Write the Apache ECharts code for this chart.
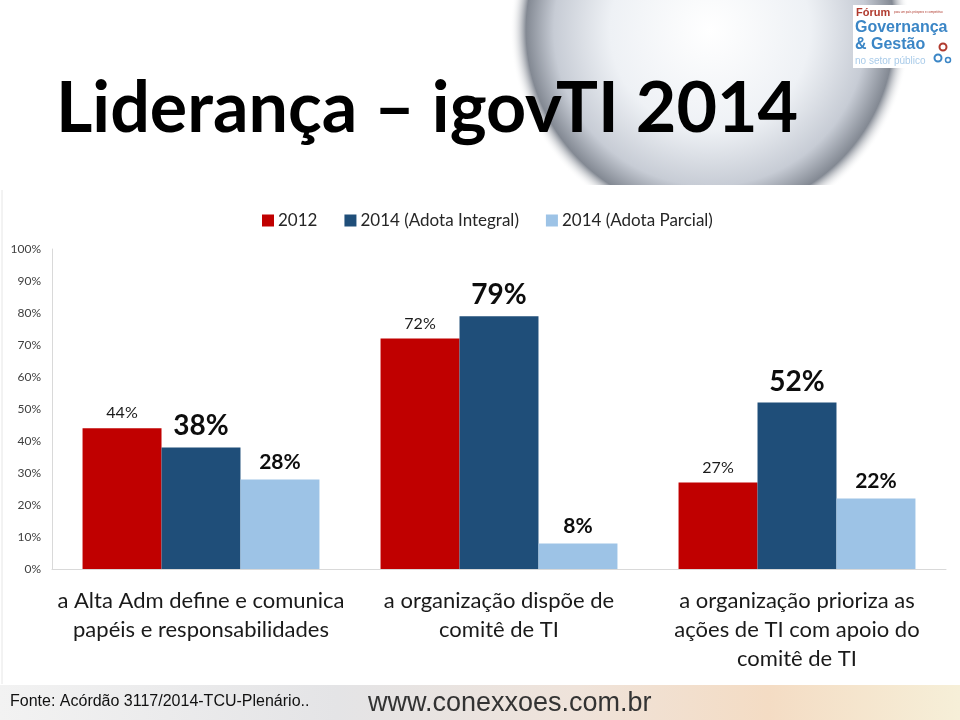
<!DOCTYPE html>
<html>
<head>
<meta charset="utf-8">
<script src="https://cdn.jsdelivr.net/npm/echarts@6/dist/echarts.min.js"></script>
<style>
html,body{margin:0;padding:0;background:#fff;}
#chart{width:960px;height:720px;}
</style>
</head>
<body>
<div id="chart"></div>
<script>
var categories = [
  "a Alta Adm define e comunica\npapéis e responsabilidades",
  "a organização dispõe de\ncomitê de TI",
  "a organização prioriza as\nações de TI com apoio do\ncomitê de TI"
];
var seriesNames = ["2012", "2014 (Adota Integral)", "2014 (Adota Parcial)"];
var values2012 = [44, 72, 27];
var values2014Integral = [38, 79, 52];
var values2014Parcial = [28, 8, 22];
var yTicks = [0, 10, 20, 30, 40, 50, 60, 70, 80, 90, 100];

var FONT = "Lato";
var chart = echarts.init(document.getElementById("chart"), null, {renderer: "canvas"});

var option = {
  backgroundColor: "#ffffff",
  animation: false,
  textStyle: {fontFamily: FONT},
  graphic: [
    {type: "circle", z: -10, shape: {cx: 710, cy: 30, r: 200},
     style: {fill: {type: "radial", x: 0.5, y: 0.5, r: 0.5, colorStops: [
       {offset: 0, color: "#ffffff"}, {offset: 0.5, color: "#eef1f5"},
       {offset: 0.78, color: "#c7ccd5"}, {offset: 0.92, color: "#838993"},
       {offset: 1, color: "rgba(255,255,255,0)"}]}}},
    {type: "rect", z: -9, shape: {x: 0, y: 185, width: 960, height: 500},
     style: {fill: "#ffffff"}},
    {type: "line", z: -8, shape: {x1: 2, y1: 190, x2: 2, y2: 684},
     style: {stroke: "#e6e6e6", lineWidth: 1}},
    {type: "rect", z: -9, shape: {x: 0, y: 685, width: 960, height: 35},
     style: {fill: {type: "linear", x: 0, y: 0, x2: 1, y2: 0, colorStops: [
       {offset: 0, color: "#f2f2f2"}, {offset: 0.35, color: "#e4e4e6"},
       {offset: 0.6, color: "#efe3da"}, {offset: 0.8, color: "#f4dcc4"},
       {offset: 1, color: "#f6efd8"}]}}},
    {type: "text", left: 56, top: 74, z: 10,
     style: {text: "Liderança – igovTI 2014", font: "bold 70px Lato", fill: "#000000"}},
    {type: "text", left: 10, top: 694, z: 10,
     style: {text: "Fonte: Acórdão 3117/2014-TCU-Plenário..", font: "16px 'Liberation Sans'", fill: "#111111"}},
    {type: "text", left: 368, top: 690, z: 10,
     style: {text: "www.conexxoes.com.br", font: "27px 'Liberation Sans'", fill: "#333333"}},
    {type: "rect", z: 5, shape: {x: 853, y: 5, width: 102, height: 63},
     style: {fill: "#ffffff"}},
    {type: "text", left: 856, top: 7, z: 6,
     style: {text: "Fórum", font: "bold 11px 'Liberation Sans'", fill: "#b03a2e"}},
    {type: "text", left: 894, top: 11, z: 6,
     style: {text: "para um país próspero e competitivo", font: "3px 'Liberation Sans'", fill: "#b03a2e"}},
    {type: "text", left: 855, top: 20, z: 6,
     style: {text: "Governança", font: "bold 16px 'Liberation Sans'", fill: "#3b86c6"}},
    {type: "text", left: 855, top: 37, z: 6,
     style: {text: "& Gestão", font: "bold 16px 'Liberation Sans'", fill: "#3b86c6"}},
    {type: "text", left: 855, top: 56, z: 6,
     style: {text: "no setor público", font: "10px 'Liberation Sans'", fill: "#a9cbe9"}},
    {type: "circle", z: 6, shape: {cx: 943, cy: 47, r: 3.5}, style: {fill: "none", stroke: "#b03a2e", lineWidth: 2}},
    {type: "circle", z: 6, shape: {cx: 938, cy: 58, r: 3.5}, style: {fill: "none", stroke: "#3b86c6", lineWidth: 2}},
    {type: "circle", z: 6, shape: {cx: 948, cy: 60, r: 2.5}, style: {fill: "none", stroke: "#3b86c6", lineWidth: 1.5}}
  ],
  legend: {
    data: seriesNames,
    left: 257, top: 207,
    itemWidth: 12, itemHeight: 12, itemGap: 27,
    icon: "rect",
    textStyle: {fontFamily: FONT, fontSize: 17, color: "#262626", padding: [0, 0, 0, -1]}
  },
  grid: {left: 52, right: 14, top: 249, bottom: 151, containLabel: false},
  xAxis: {
    type: "category",
    data: categories,
    axisLine: {show: true, lineStyle: {color: "#d9d9d9", width: 1}},
    axisTick: {show: false},
    axisLabel: {interval: 0, margin: 17, fontFamily: FONT, fontSize: 22, lineHeight: 29, color: "#1a1a1a"}
  },
  yAxis: {
    type: "value",
    min: 0, max: 100, interval: 10,
    axisLine: {show: true, lineStyle: {color: "#d9d9d9", width: 1}},
    axisTick: {show: false},
    splitLine: {show: false},
    axisLabel: {margin: 11, fontFamily: FONT, fontSize: 12, color: "#404040",
      formatter: function (v) { return yTicks.indexOf(v) >= 0 ? v + "%" : ""; }}
  },
  series: [
    {name: seriesNames[0], type: "bar", data: values2012, barGap: "0%", barCategoryGap: "20.5%",
     itemStyle: {color: "#c00000"},
     label: {show: true, position: "top", distance: 7, formatter: "{c}%",
       fontFamily: FONT, fontSize: 16, color: "#1a1a1a"}},
    {name: seriesNames[1], type: "bar", data: values2014Integral, barGap: "0%", barCategoryGap: "20.5%",
     itemStyle: {color: "#1f4e79"},
     label: {show: true, position: "top", distance: 7, formatter: "{c}%",
       fontFamily: FONT, fontSize: 28, fontWeight: "bold", color: "#0d0d0d"}},
    {name: seriesNames[2], type: "bar", data: values2014Parcial, barGap: "0%", barCategoryGap: "20.5%",
     itemStyle: {color: "#9dc3e6"},
     label: {show: true, position: "top", distance: 7, formatter: "{c}%",
       fontFamily: FONT, fontSize: 21, fontWeight: "bold", color: "#0d0d0d"}}
  ]
};
chart.setOption(option);
</script>
</body>
</html>
